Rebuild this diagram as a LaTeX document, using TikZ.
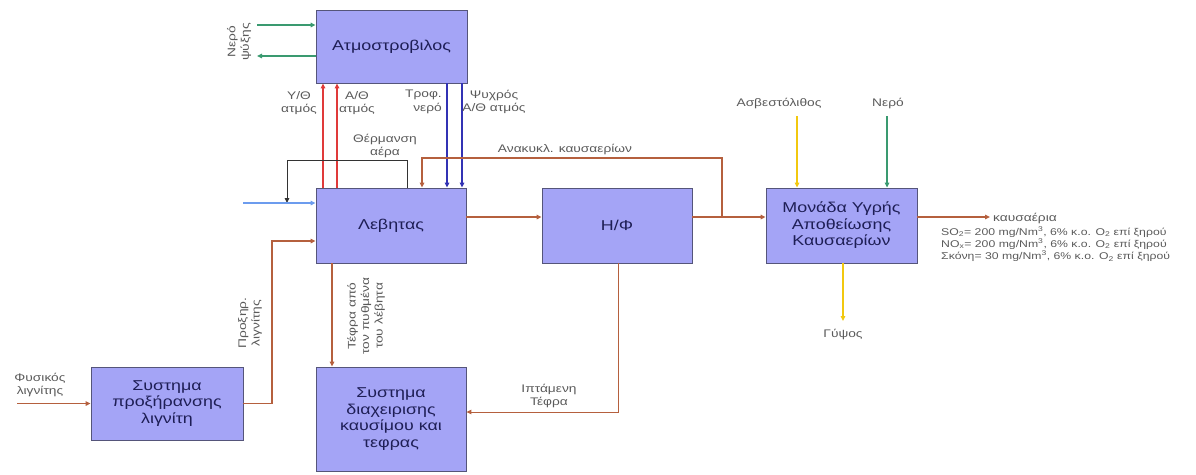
\documentclass[tikz,border=0pt]{standalone}
\usepackage{fontspec}
\setmainfont[FakeStretch=1.25]{Liberation Sans}
\usetikzlibrary{arrows.meta}
\definecolor{boxfill}{HTML}{A4A4F6}
\definecolor{boxedge}{HTML}{55557A}
\definecolor{boxtext}{HTML}{1E1E55}
\definecolor{lbl}{HTML}{5A5A5A}
\definecolor{brownl}{HTML}{B5603E}
\definecolor{redl}{HTML}{E03A3A}
\definecolor{bluel}{HTML}{3232B4}
\definecolor{lblue}{HTML}{6C9CEE}
\definecolor{greenl}{HTML}{3A9A70}
\definecolor{yell}{HTML}{F2C80F}
\definecolor{darkl}{HTML}{333333}
\begin{document}
\begin{tikzpicture}[x=1pt,y=-1pt,
 box/.style={draw=boxedge,fill=boxfill,line width=0.8pt,inner sep=0pt,align=center,text=boxtext,font=\fontsize{14.3}{16.5}\selectfont},
 lab/.style={text=lbl,font=\fontsize{11}{13.5}\selectfont,inner sep=0pt,align=center},
 tip/.style={-{Triangle[length=5pt,width=4.5pt]}},
 flow/.style={tip,draw=brownl,line width=1.3pt},
 steam/.style={tip,draw=redl,line width=2.4pt},
 feed/.style={tip,draw=bluel,line width=1.8pt},
 airl/.style={tip,draw=darkl,line width=0.9pt},
 inair/.style={tip,draw=lblue,line width=1.6pt},
 water/.style={tip,draw=greenl,line width=1.3pt},
 lime/.style={tip,draw=yell,line width=1.3pt}
]
\useasboundingbox (0,0) rectangle (1196,474);

% boxes
\node[box,minimum width=151pt,minimum height=73pt] (turb) at (391.5,46.5) {Ατμοστροβιλος};
\node[box,minimum width=150pt,minimum height=75pt] (boil) at (391,225.5) {Λεβητας};
\node[box,minimum width=150pt,minimum height=75pt] (hf) at (617,225.5) {Η/Φ};
\node[box,minimum width=151pt,minimum height=75pt] (fgd) at (841.5,225.5) {Μονάδα Υγρής\\Αποθείωσης\\Καυσαερίων};
\node[box,minimum width=152pt,minimum height=73pt] (pre) at (167,403.5) {Συστημα\\προξήρανσης\\λιγνίτη};
\node[box,minimum width=150pt,minimum height=104pt] (ash) at (391,419) {Συστημα\\διαχειρισης\\καυσίμου και\\τεφρας};

% coordinates
\coordinate (cwin) at (257,25);
\coordinate (cwout) at (257,56);
\coordinate (r1) at (323,0);
\coordinate (r2) at (337,0);
\coordinate (b1) at (447,0);
\coordinate (b2) at (462,0);
\coordinate (ha1) at (407,160);
\coordinate (ha2) at (287,160);
\coordinate (ha3) at (287,203);
\coordinate (ain) at (243,203);
\coordinate (fg) at (0,217);
\coordinate (rc1) at (722,217);
\coordinate (rc2) at (722,158);
\coordinate (rc3) at (422,158);
\coordinate (gout) at (990,217);
\coordinate (ls) at (797,116);
\coordinate (ws) at (887,116);
\coordinate (gy) at (843,321);
\coordinate (bt) at (332,0);
\coordinate (fa1) at (618,412);
\coordinate (rl) at (17,403.5);
\coordinate (pd1) at (272,403.5);
\coordinate (pd2) at (272,241);

% cooling water
\draw[water] (cwin) -- (cwin -| turb.west);
\draw[water] (cwout -| turb.west) -- (cwout);
\node[lab,rotate=90] (lcw) at (239,42) {Νερό\\ψύξης};

% steam
\draw[steam] (r1 |- boil.north) -- (r1 |- turb.south);
\draw[steam] (r2 |- boil.north) -- (r2 |- turb.south);
\node[lab] (lhp) at (299,103) {Υ/Θ\\ατμός};
\node[lab] (lrh) at (357,103) {Α/Θ\\ατμός};
\draw[feed] (b1 |- turb.south) -- (b1 |- boil.north);
\draw[feed] (b2 |- turb.south) -- (b2 |- boil.north);
\node[lab,anchor=east,align=right] (lfw) at (442,102) {Τροφ.\\νερό};
\node[lab] (lcr) at (494,102) {Ψυχρός\\Α/Θ ατμός};

% air heating
\draw[airl] (ha1 |- boil.north) -- (ha1) -- (ha2) -- (ha3);
\node[lab] (lha) at (385,146) {Θέρμανση\\αέρα};
\draw[inair] (ain) -- (ain -| boil.west);

% flue gas
\draw[flow] (boil.east |- fg) -- (hf.west |- fg);
\draw[flow] (hf.east |- fg) -- (fgd.west |- fg);
\draw[flow] (rc1) -- (rc2) -- (rc3) -- (rc3 |- boil.north);
\node[lab] (lrc) at (565,149) {Ανακυκλ. καυσαερίων};
\draw[flow] (fgd.east |- fg) -- (gout);
\node[lab,anchor=west] (lgo) at (993,218) {καυσαέρια};
\node[lab,anchor=north west,align=left,font=\fontsize{9.8}{12.2}\selectfont] (lem) at (941,226.5) {SO\textsubscript{2}= 200 mg/Nm\textsuperscript{3}, 6\% κ.ο. O\textsubscript{2} επί ξηρού\\NO\textsubscript{x}= 200 mg/Nm\textsuperscript{3}, 6\% κ.ο. O\textsubscript{2} επί ξηρού\\Σκόνη= 30 mg/Nm\textsuperscript{3}, 6\% κ.ο. O\textsubscript{2} επί ξηρού};

% FGD inputs / outputs
\draw[lime] (ls) -- (ls |- fgd.north);
\node[lab] (lls) at (779,103) {Ασβεστόλιθος};
\draw[water] (ws) -- (ws |- fgd.north);
\node[lab] (lws) at (888,103) {Νερό};
\draw[lime] (gy |- fgd.south) -- (gy);
\node[lab] (lgy) at (843,334) {Γύψος};

% ash
\draw[flow] (bt |- boil.south) -- (bt |- ash.north);
\node[lab,rotate=90] (lbt) at (366,316) {Τέφρα από\\τον πυθμένα\\του λέβητα};
\draw[flow,line width=1pt] (fa1 |- hf.south) -- (fa1) -- (fa1 -| ash.east);
\node[lab] (lfa) at (549,396) {Ιπτάμενη\\Τέφρα};

% lignite
\draw[flow] (rl) -- (rl -| pre.west);
\node[lab] (lrl) at (40,385) {Φυσικός\\λιγνίτης};
\draw[flow] (pre.east) -- (pd1) -- (pd2) -- (pd2 -| boil.west);
\node[lab,rotate=90] (lpd) at (250,323) {Προξηρ.\\λιγνίτης};
\end{tikzpicture}
\end{document}
